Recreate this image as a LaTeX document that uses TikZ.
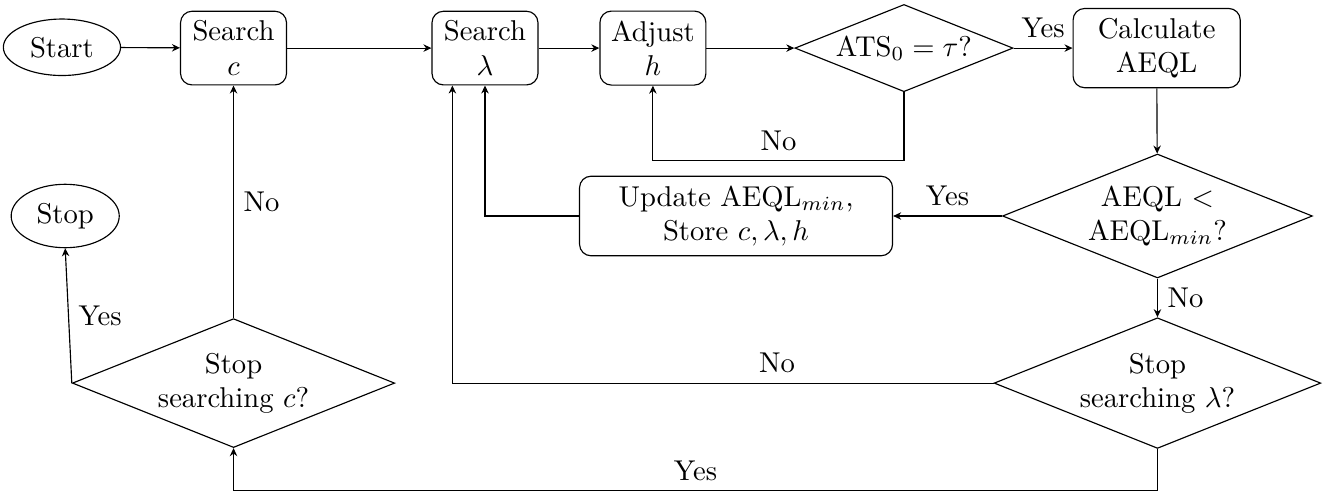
\documentclass[tikz,border=0pt]{standalone}
\usepackage{amsmath, amssymb}
\usetikzlibrary{positioning, arrows.meta, calc, shapes.geometric}
\tikzset{
  terminal/.style = {ellipse, draw, align=center},
  block/.style    = {rectangle, draw, rounded corners=4pt, align=center,
                     minimum width=1.3cm},
  decision/.style = {diamond, draw, aspect=2.5, inner sep=1pt, align=center},
  flow/.style     = {-{Stealth[length=2.8pt, width=2.6pt]}},
}

\begin{document}
\begin{tikzpicture}
\useasboundingbox (0,0) rectangle (16.28,-6.04);

% =====================================================================
% Top row — search over c, lambda and h
% =====================================================================
\node[terminal] (start)   at (0.76, -0.58) {Start};
\node[block]    (searchc) at (2.865,-0.59) {Search\\$c$};
\node[block]    (searchl) at (5.95, -0.59) {Search\\$\lambda$};
\node[block]    (adjust)  at (8.01, -0.59) {Adjust\\$h$};
\node[decision] (ats)     at (11.09,-0.59) {$\text{ATS}_0=\tau$?};
\node[block, minimum width=2.05cm] (calc) at (14.19,-0.59) {Calculate\\AEQL};

% =====================================================================
% Middle and bottom — compare, store and stop tests
% =====================================================================
\node[decision] (better)  at (14.20,-2.65) {AEQL $<$\\AEQL$_{min}$?};
\node[block, minimum width=3.84cm] (update) at (9.03,-2.65)
      {Update AEQL$_{min}$,\\Store $c,\lambda,h$};
\node[decision] (stopl)   at (14.20,-4.70) {Stop\\searching $\lambda$?};
\node[decision] (stopc)   at (2.865,-4.70) {Stop\\searching $c$?};
\node[terminal] (stop)    at (0.80, -2.65) {Stop};

% Forward flow
\draw[flow] (start)   -- (searchc);
\draw[flow] (searchc) -- (searchl);
\draw[flow] (searchl) -- (adjust);
\draw[flow] (adjust)  -- (ats);
\draw[flow] (ats)     -- node[midway, above] {Yes} (calc);
\draw[flow] (calc)    -- (better);
\draw[flow] (better)  -- node[midway, above] {Yes} (update);
\draw[flow] (better)  -- node[midway, right] {No} (stopl);

% Loops back
\draw[flow] (ats.south) -- ++(0,-0.84) -| node[pos=0.25, above] {No} (adjust.south);
\draw[flow] (update.west) -| (searchl.south);
\draw[flow] (stopl.west) -| node[pos=0.2, above] {No} ([xshift=-0.4cm]searchl.south);
\draw[flow] (stopl.south) -- ++(0,-0.51) -| node[pos=0.25, above] {Yes} (stopc.south);
\draw[flow] (stopc.north) -- node[midway, right] {No} (searchc.south);
\draw[flow] (stopc.west)  -- node[midway, right] {Yes} (stop.south);

\end{tikzpicture}
\end{document}
